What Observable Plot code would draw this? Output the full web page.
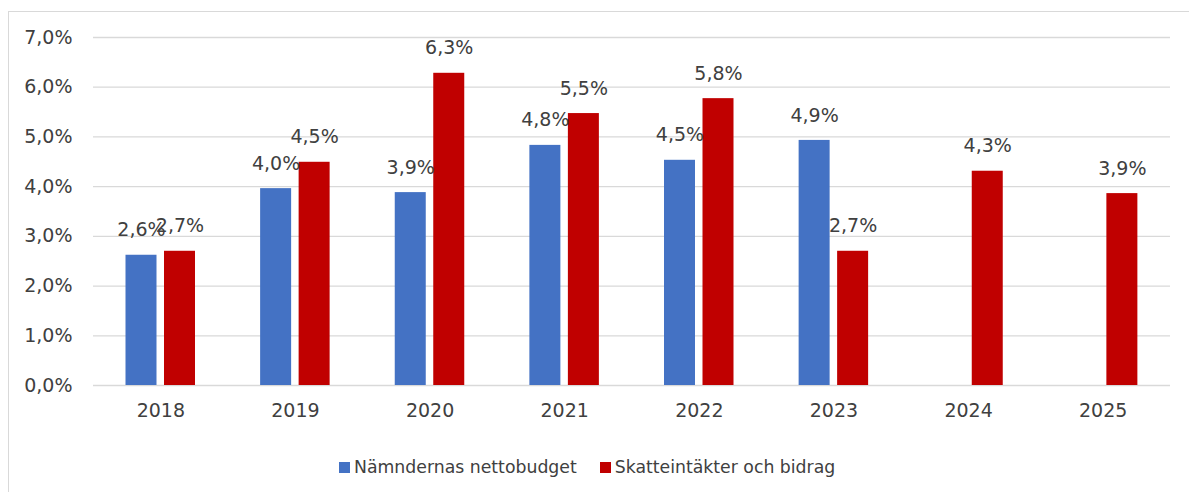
<!DOCTYPE html>
<html>
<head>
<meta charset="utf-8">
<script src="https://cdn.jsdelivr.net/npm/d3@7"></script>
<script src="https://cdn.jsdelivr.net/npm/@observablehq/plot@0.6"></script>
<style>
  html, body { margin: 0; padding: 0; background: #fff; overflow: hidden; }
  body { width: 1189px; height: 492px; position: relative; font-family: "DejaVu Sans", sans-serif; }
  #frame { position: absolute; left: 8px; top: 11px; width: 1300px; height: 600px; border-top: 1px solid #d9d9d9; border-left: 1px solid #d9d9d9; }
  #legend { position: absolute; left: 330px; top: 443px; height: 24px; display: flex; align-items: center; font-size: 17.3px; color: #404040; white-space: nowrap; }
  .sw { display: inline-block; width: 11px; height: 11px; margin-right: 4px; }
  .item { display: flex; align-items: center; margin-right: 23px; }
</style>
</head>
<body>
<div id="frame"><div id="chart"></div><div id="legend"></div></div>
<script>
const years = ["2018", "2019", "2020", "2021", "2022", "2023", "2024", "2025"];
const namnd = [2.62, 3.96, 3.88, 4.83, 4.53, 4.93, null, null];
const skatt = [2.70, 4.49, 6.28, 5.47, 5.77, 2.70, 4.31, 3.86];
const seriesNames = ["Nämndernas nettobudget", "Skatteintäkter och bidrag"];
const colors = ["#4472C4", "#C00000"];
const yTicks = [0, 1, 2, 3, 4, 5, 6, 7];

const pct = v => (Math.round(v * 10) / 10).toFixed(1).replace(".", ",") + "%";

const dA = years.map((y, i) => ({year: y, value: namnd[i]})).filter(d => d.value != null);
const dB = years.map((y, i) => ({year: y, value: skatt[i]})).filter(d => d.value != null);

const band = (1161 - 84) / 8;

const plot = Plot.plot({
  width: 1180,
  height: 430,
  marginLeft: 84,
  marginRight: 19,
  marginTop: 25,
  marginBottom: 57,
  style: {fontFamily: "DejaVu Sans, sans-serif", fontSize: "19px", color: "#404040", background: "#fff", overflow: "visible"},
  x: {domain: years, padding: 0, round: false, label: null, tickSize: 0, tickPadding: 18},
  y: {domain: [0, 7], ticks: yTicks, tickFormat: d => d.toFixed(1).replace(".", ",") + "%", label: null, tickSize: 0, tickPadding: 21, grid: false},
  marks: [
    Plot.ruleY(yTicks, {stroke: "#d9d9d9", strokeWidth: 1.3}),
    Plot.barY(dA, {x: "year", y: "value", fill: colors[0], insetLeft: 32.5, insetRight: band - 63.5}),
    Plot.barY(dB, {x: "year", y: "value", fill: colors[1], insetLeft: 71, insetRight: band - 102}),
    Plot.text(dA, {x: "year", y: "value", text: d => pct(d.value), dx: -19.3, dy: -25, fill: "#404040", fontSize: 19, lineAnchor: "middle"}),
    Plot.text(dB, {x: "year", y: "value", text: d => pct(d.value), dx: 19.2, dy: -25, fill: "#404040", fontSize: 19, lineAnchor: "middle"})
  ]
});
document.getElementById("chart").appendChild(plot);

const legend = document.getElementById("legend");
seriesNames.forEach((name, i) => {
  const item = document.createElement("span");
  item.className = "item";
  const sw = document.createElement("span");
  sw.className = "sw";
  sw.style.background = colors[i];
  item.appendChild(sw);
  item.appendChild(document.createTextNode(name));
  legend.appendChild(item);
});
</script>
</body>
</html>
